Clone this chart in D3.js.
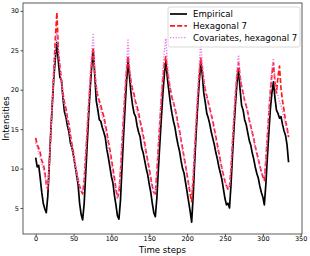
<!DOCTYPE html>
<html>
<head>
<meta charset="utf-8">
<script src="https://cdn.jsdelivr.net/npm/d3@7"></script>
<style>
  body { margin: 0; background: #fff; }
  text { font-family: "DejaVu Sans", sans-serif; fill: #000; }
</style>
</head>
<body>
<svg id="chart" width="310" height="256"></svg>
<script>
// time step of every sample (every 2nd step)
const steps = d3.range(0, 335, 2);

const empirical = [
  11.4, 10.2, 10.4, 8.8, 7.0, 5.6, 4.9, 4.4, 6.5, 10.5,
  14.8, 18.2, 21.6, 24.0, 26.0, 23.5, 21.6, 21.2, 19.0, 17.2,
  16.5, 15.4, 14.6, 13.2, 12.6, 11.6, 10.4, 9.2, 8.0, 5.6,
  4.2, 3.5, 5.5, 9.2, 13.0, 16.8, 20.2, 23.0, 25.0, 22.0,
  18.6, 17.5, 16.2, 16.0, 15.2, 14.6, 13.9, 12.4, 11.4, 10.2,
  9.0, 8.2, 6.6, 5.4, 4.0, 3.6, 6.0, 10.0, 14.0, 17.6,
  21.0, 23.5, 21.6, 19.5, 18.0, 17.0, 16.6, 15.4, 14.6, 14.0,
  12.6, 12.0, 11.0, 10.0, 9.2, 8.0, 7.0, 5.6, 4.4, 3.9,
  6.2, 9.8, 13.2, 16.4, 19.5, 22.0, 23.6, 21.4, 19.8, 18.2,
  17.0, 16.0, 15.2, 14.0, 13.0, 12.2, 11.0, 10.0, 9.4, 8.2,
  7.0, 5.8, 4.6, 3.2, 6.5, 10.8, 14.6, 18.0, 21.0, 23.4,
  22.0, 19.6, 18.4, 17.0, 16.4, 15.6, 14.6, 13.8, 13.0, 12.0,
  11.2, 10.2, 9.4, 8.6, 7.4, 6.2, 5.4, 5.6, 5.0, 8.0,
  11.8, 15.2, 18.4, 21.0, 22.6, 20.0, 18.0, 17.4, 16.2, 15.6,
  14.6, 13.6, 13.0, 12.0, 11.2, 10.2, 9.4, 8.8, 7.8, 7.0,
  6.4, 5.4, 8.0, 11.4, 14.6, 17.6, 19.6, 21.0, 19.0, 17.4,
  17.0, 16.4, 16.6, 15.6, 14.8, 14.2, 13.0, 10.8
];

const hexagonal7 = [
  13.9, 13.0, 12.6, 12.0, 11.0, 10.6, 9.6, 8.0, 7.4, 10.8,
  14.5, 18.5, 22.5, 26.5, 29.8, 24.8, 23.0, 21.2, 19.6, 18.4,
  17.6, 16.4, 15.6, 14.2, 13.0, 12.0, 10.6, 9.6, 8.6, 7.8,
  7.2, 6.8, 8.4, 11.6, 14.8, 18.0, 21.0, 23.6, 25.4, 22.0,
  20.4, 19.2, 18.6, 18.0, 17.2, 16.6, 15.6, 14.6, 13.4, 12.4,
  11.2, 10.0, 8.8, 7.4, 6.3, 7.0, 9.6, 13.0, 16.4, 19.6,
  22.4, 24.3, 22.4, 21.0, 20.0, 19.4, 18.4, 17.8, 17.0, 16.0,
  15.2, 14.2, 13.2, 12.0, 11.0, 10.0, 8.8, 7.8, 7.0, 6.8,
  9.4, 12.6, 15.8, 18.8, 21.4, 23.4, 24.2, 22.4, 21.0, 20.0,
  19.0, 18.4, 17.6, 16.8, 15.6, 14.8, 13.6, 12.6, 11.4, 10.4,
  9.2, 8.0, 6.8, 5.8, 8.6, 12.4, 15.8, 19.0, 22.0, 24.0,
  22.8, 21.2, 20.0, 19.2, 18.4, 17.6, 16.8, 16.0, 15.0, 14.0,
  13.0, 12.0, 11.0, 10.0, 9.2, 8.4, 7.8, 7.4, 7.6, 10.0,
  13.4, 16.6, 19.6, 22.0, 23.4, 21.6, 20.4, 19.6, 18.6, 18.0,
  17.2, 16.2, 15.4, 14.6, 13.8, 12.8, 12.0, 11.2, 10.4, 9.6,
  9.0, 8.5, 11.0, 14.0, 17.0, 19.8, 22.0, 23.4, 21.0, 19.6,
  21.6, 23.0, 20.2, 18.6, 17.4, 16.0, 15.2, 14.0
];

const covariatesHex7 = [
  13.3, 12.6, 12.0, 11.4, 10.6, 10.0, 9.0, 8.0, 7.6, 10.6,
  14.4, 18.4, 22.0, 25.0, 27.2, 25.0, 23.0, 21.0, 19.2, 18.0,
  17.0, 16.0, 15.0, 13.8, 12.6, 11.6, 10.4, 9.4, 8.4, 7.6,
  7.0, 7.2, 8.8, 12.0, 15.4, 18.8, 22.0, 24.8, 27.0, 23.0,
  20.6, 19.0, 18.0, 17.4, 16.6, 16.0, 15.0, 14.0, 13.0, 11.8,
  10.6, 9.4, 8.2, 7.0, 6.4, 7.2, 10.0, 13.6, 17.2, 20.6,
  23.6, 26.3, 23.0, 21.0, 19.6, 19.0, 18.0, 17.2, 16.4, 15.6,
  14.6, 13.8, 12.6, 11.6, 10.6, 9.6, 8.4, 7.4, 6.8, 7.0,
  9.8, 13.2, 16.6, 19.8, 22.6, 25.0, 26.5, 23.4, 21.6, 20.2,
  19.0, 18.2, 17.4, 16.4, 15.4, 14.4, 13.4, 12.2, 11.2, 10.2,
  9.0, 8.0, 7.4, 7.1, 9.4, 13.0, 16.6, 20.0, 23.2, 26.0,
  23.4, 21.4, 20.0, 19.0, 18.2, 17.4, 16.6, 15.6, 14.6, 13.6,
  12.6, 11.6, 10.8, 9.8, 9.0, 8.4, 7.8, 7.5, 7.8, 10.4,
  13.8, 17.0, 20.0, 22.6, 24.4, 22.0, 20.6, 19.6, 18.6, 17.8,
  17.0, 16.0, 15.2, 14.4, 13.6, 12.6, 11.8, 11.0, 10.2, 9.6,
  9.2, 9.0, 11.4, 14.4, 17.4, 20.2, 22.6, 24.0, 21.4, 20.0,
  19.2, 18.4, 18.0, 17.2, 16.4, 15.6, 14.8, 14.2
];

const xTicks = [0, 50, 100, 150, 200, 250, 300, 350];
const yTicks = [5, 10, 15, 20, 25, 30];

const series = [
  { name: "Empirical", values: empirical, color: "#000000", width: 1.7, dash: null },
  { name: "Hexagonal 7", values: hexagonal7, color: "#ff1a1a", width: 1.7, dash: "5,2.2" },
  { name: "Covariates, hexagonal 7", values: covariatesHex7, color: "#e879e8", width: 1.4, dash: "1.2,1.6" }
];

const plotLeft = 23, plotRight = 302, plotTop = 3, plotBottom = 234;

const x = d3.scaleLinear().domain([-16.75, 351.75]).range([plotLeft, plotRight]);
const y = d3.scaleLinear().domain([1.7, 31.0]).range([plotBottom, plotTop]);

const svg = d3.select("#chart");

const line = d3.line()
    .x((d, i) => x(steps[i]))
    .y(d => y(d));

svg.append("g")
    .selectAll("path")
    .data(series).enter()
    .append("path")
    .attr("d", d => line(d.values))
    .attr("fill", "none")
    .attr("stroke", d => d.color)
    .attr("stroke-width", d => d.width)
    .attr("stroke-dasharray", d => d.dash)
    .attr("stroke-linejoin", "round");

// axes
const xAxis = svg.append("g")
    .attr("transform", "translate(0," + plotBottom + ")")
    .call(d3.axisBottom(x).tickValues(xTicks).tickSize(2.5).tickPadding(0.3));
const yAxis = svg.append("g")
    .attr("transform", "translate(" + plotLeft + ",0)")
    .call(d3.axisLeft(y).tickValues(yTicks).tickSize(2.5).tickPadding(1.5));

[xAxis, yAxis].forEach(a => {
    a.select(".domain").remove();
    a.selectAll("line").attr("stroke", "#222").attr("stroke-width", 0.8);
    a.selectAll("text")
        .attr("font-family", "DejaVu Sans, sans-serif")
        .attr("font-size", 6.5)
        .attr("fill", "#111");
});

// frame
svg.append("rect")
    .attr("x", plotLeft)
    .attr("y", plotTop)
    .attr("width", plotRight - plotLeft)
    .attr("height", plotBottom - plotTop)
    .attr("fill", "none")
    .attr("stroke", "#333")
    .attr("stroke-width", 0.8);

svg.append("text")
    .attr("x", (plotLeft + plotRight) / 2)
    .attr("y", 252.5)
    .attr("text-anchor", "middle")
    .attr("font-size", 8.6)
    .text("Time steps");

svg.append("text")
    .attr("transform", "translate(9," + (plotTop + plotBottom) / 2 + ") rotate(-90)")
    .attr("text-anchor", "middle")
    .attr("font-size", 8.6)
    .text("Intensities");

// legend
const legend = svg.append("g");

legend.append("rect")
    .attr("x", 168)
    .attr("y", 7)
    .attr("width", 132)
    .attr("height", 40)
    .attr("rx", 2)
    .attr("fill", "#fff")
    .attr("fill-opacity", 0.8)
    .attr("stroke", "#d0d0d0")
    .attr("stroke-width", 0.8);

legend.selectAll("line.key")
    .data(series).enter()
    .append("line")
    .attr("x1", 170)
    .attr("x2", 187)
    .attr("y1", (d, i) => 14 + i * 11.8)
    .attr("y2", (d, i) => 14 + i * 11.8)
    .attr("stroke", d => d.color)
    .attr("stroke-width", d => d.width)
    .attr("stroke-dasharray", d => d.dash);

legend.selectAll("text.key")
    .data(series).enter()
    .append("text")
    .attr("x", 193)
    .attr("y", (d, i) => 17 + i * 11.8)
    .attr("font-size", 8.6)
    .text(d => d.name);
</script>
</body>
</html>
